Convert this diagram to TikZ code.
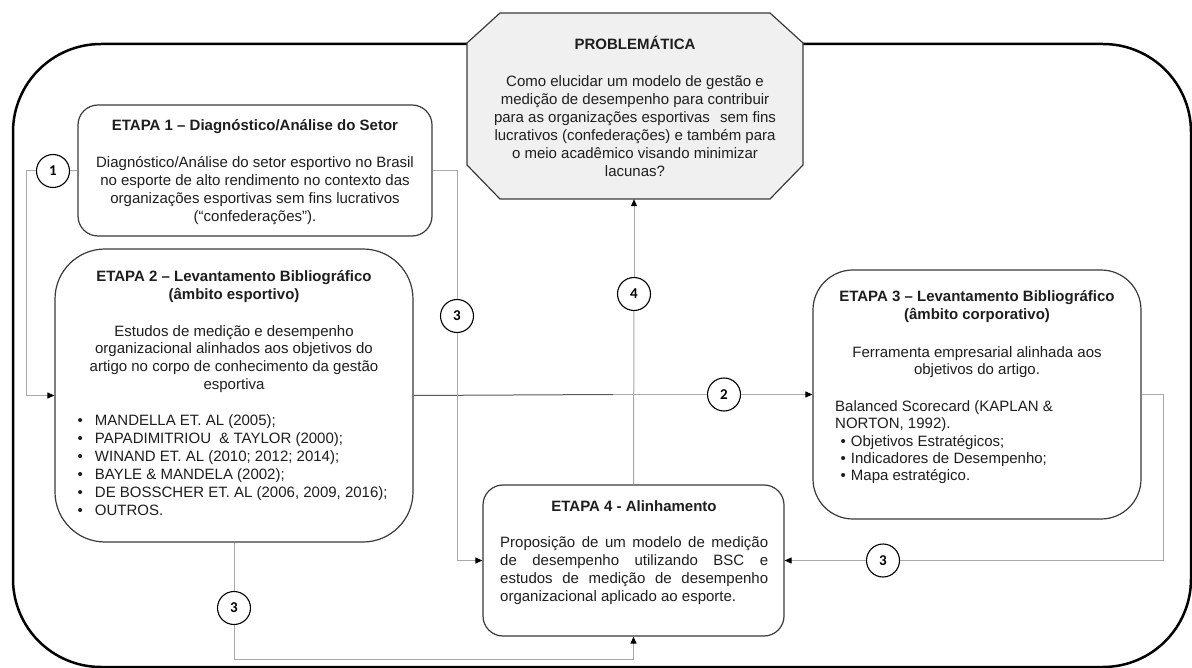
\documentclass[tikz,border=0pt]{standalone}
\usepackage{fontspec}
\setmainfont{Liberation Sans}
\newfontfamily\numfont{Carlito}
\usetikzlibrary{arrows.meta}
\definecolor{boxline}{HTML}{3A3A3A}
\definecolor{connc}{HTML}{A8A8A8}
\definecolor{conndark}{HTML}{5A5A5A}
\definecolor{probfill}{HTML}{F0F0F0}
\definecolor{txtc}{HTML}{1E1E1E}
\begin{document}
\begin{tikzpicture}[x=1pt,y=-1pt,
  stagebox/.style={draw=boxline, line width=1.2pt, rounded corners=#1, inner sep=0pt, fill=white, rectangle},
  txt/.style={inner sep=0pt, font=\fontsize{15}{18}\selectfont, text=txtc},
  ttl/.style={inner sep=0pt, font=\fontsize{15}{18}\selectfont\bfseries, text=txtc},
  numc/.style={circle, draw=black, line width=1.1pt, fill=white, minimum size=33pt, inner sep=0pt, font=\numfont\fontsize{15}{15}\selectfont\bfseries},
  cline/.style={draw=connc, line width=1pt},
  arr/.style={cline, -{Triangle[length=7pt,width=6pt,color=black]}},
  octa/.style={draw=boxline, line width=1.2pt, fill=probfill, line join=miter},
]
\useasboundingbox (0,0) rectangle (1192,668);

% outer frame
\draw[line width=2.5pt, rounded corners=88pt] (13,44) rectangle (1191,667);

% boxes
\node[stagebox=20pt, minimum width=354pt, minimum height=131pt] (e1) at (255,170.5) {};
\node[stagebox=50pt, minimum width=358pt, minimum height=293pt] (e2) at (234,395.5) {};
\node[stagebox=40pt, minimum width=328pt, minimum height=249pt] (e3) at (977,394.5) {};
\node[stagebox=20pt, minimum width=301pt, minimum height=151pt] (e4) at (633.5,560.5) {};

% problematica octagon
\draw[octa] (467,43) -- (500,13) -- (770,13) -- (803,43) -- (803,165) -- (770,199) -- (500,199) -- (467,165) -- cycle;
\node[rectangle, inner sep=0pt, minimum width=336pt, minimum height=186pt] (prob) at (635,106) {};

% circles
\node[numc] (c1) at (53,171) {1};
\node[numc] (c3a) at (457,316) {3};
\node[numc] (c2) at (724,394.5) {2};
\node[numc] (c4) at (634,294) {4};
\node[numc] (c3b) at (234,608) {3};
\node[numc] (c3c) at (883,560.5) {3};

% connector corner points
\coordinate (k1) at (26,171);
\coordinate (k3a) at (457,170.5);
\coordinate (k3b) at (234,659);
\coordinate (k3c) at (1163,560.5);
\coordinate (kd) at (613,394.5);

% connectors
\draw[cline] (e1.west) -- (c1);
\draw[arr] (c1) -- (k1) |- (e2.west);
\draw[draw=conndark, line width=1pt] (e2.east) -- (kd);
\draw[cline] (kd) -- (c2);
\draw[arr] (c2) -- (e3.west);
\draw[cline] (e1.east) -- (k3a) -- (c3a);
\draw[arr] (c3a) |- (e4.west);
\draw[cline] (e2.south) -- (c3b);
\draw[arr] (c3b) -- (k3b) -| (e4.south);
\draw[cline] (e3.east) -| (k3c) -- (c3c);
\draw[arr] (c3c) -- (e4.east);
\draw[cline] (e4.north) -- (c4);
\draw[arr] (c4) -- (c4 |- prob.south);

% texts: PROBLEMATICA (multi-line nodes: base = last line)
\node[ttl, anchor=base] (pt) at (635,50) {PROBLEMÁTICA};
\node[txt, align=center, anchor=base] (pb) at (635,177) {Como elucidar um modelo de gestão e\\
medição de desempenho para contribuir\\
para as organizações esportivas\hspace{6pt} sem fins\\
lucrativos (confederações) e também para\\
o meio acadêmico visando minimizar\\
lacunas?};

% ETAPA 1
\node[ttl, anchor=base] (e1t) at (255,131) {ETAPA 1 – Diagnóstico/Análise do Setor};
\node[txt, align=center, anchor=base] (e1b) at (255,222) {Diagnóstico/Análise do setor esportivo no Brasil\\
no esporte de alto rendimento no contexto das\\
organizações esportivas sem fins lucrativos\\
(“confederações”).};

% ETAPA 2
\node[ttl, align=center, anchor=base] (e2t) at (234,300) {ETAPA 2 – Levantamento Bibliográfico\\ (âmbito esportivo)};
\node[txt, align=center, anchor=base] (e2b) at (234,390) {Estudos de medição e desempenho\\
organizacional alinhados aos objetivos do\\
artigo no corpo de conhecimento da gestão\\
esportiva};
\node[txt, anchor=base west] (e2l) at (77.5,425) {\begin{tabular}[t]{@{}l@{\hspace{12pt}}l@{}}
•&MANDELLA ET. AL (2005);\\
•&PAPADIMITRIOU \ \& TAYLOR (2000);\\
•&WINAND ET. AL (2010; 2012; 2014);\\
•&BAYLE \& MANDELA (2002);\\
•&DE BOSSCHER ET. AL (2006, 2009, 2016);\\
•&OUTROS.
\end{tabular}};

% ETAPA 3
\node[ttl, align=center, anchor=base] (e3t) at (977,320) {ETAPA 3 – Levantamento Bibliográfico\\ (âmbito corporativo)};
\node[txt, align=center, anchor=base, font=\fontsize{15}{17}\selectfont] (e3b) at (977,374) {Ferramenta empresarial alinhada aos\\ objetivos do artigo.};
\node[txt, anchor=base west, font=\fontsize{15}{17.5}\selectfont] (e3l) at (835,411) {\begin{tabular}[t]{@{}l@{\hspace{5pt}}l@{}}
\multicolumn{2}{@{}l@{}}{Balanced Scorecard (KAPLAN \&}\\
\multicolumn{2}{@{}l@{}}{NORTON, 1992).}\\
\hspace{5.5pt}•&Objetivos Estratégicos;\\
\hspace{5.5pt}•&Indicadores de Desempenho;\\
\hspace{5.5pt}•&Mapa estratégico.
\end{tabular}};

% ETAPA 4
\node[ttl, anchor=base] (e4t) at (634,511) {ETAPA 4 - Alinhamento};
\node[txt, align=left, anchor=base west] (e4b) at (500,601) {\makebox[268pt][s]{Proposição de um modelo de medição}\\
\makebox[268pt][s]{de desempenho utilizando BSC e}\\
\makebox[268pt][s]{estudos de medição de desempenho}\\
organizacional aplicado ao esporte.};
\end{tikzpicture}
\end{document}
